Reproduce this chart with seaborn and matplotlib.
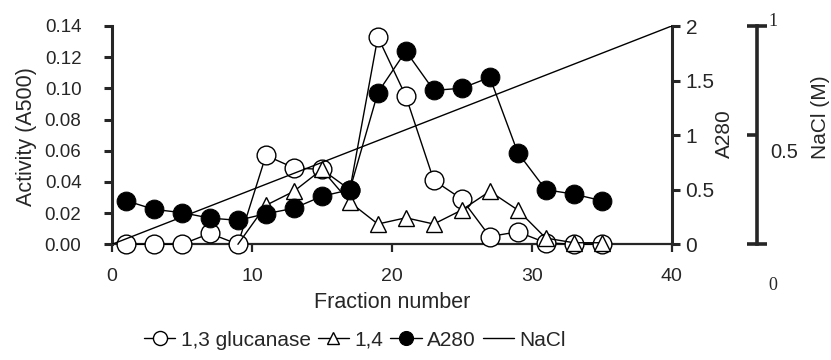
import numpy as np
import pandas as pd
import seaborn as sns
import matplotlib
matplotlib.use("Agg")
import matplotlib.pyplot as plt
from matplotlib.ticker import FormatStrFormatter, FixedLocator

# data
fractions = [1, 3, 5, 7, 9, 11, 13, 15, 17, 19, 21, 23, 25, 27, 29, 31, 33, 35]
glucanase_13 = [0.0, 0.0, 0.0, 0.007, 0.0, 0.057, 0.049, 0.048, 0.035, 0.133,
                0.095, 0.041, 0.029, 0.005, 0.008, 0.001, 0.0, 0.0]
fractions_14 = [9, 11, 13, 15, 17, 19, 21, 23, 25, 27, 29, 31, 33, 35]
glucanase_14 = [0.0, 0.025, 0.034, 0.048, 0.027, 0.013, 0.017, 0.013, 0.022,
                0.034, 0.022, 0.004, 0.001, 0.001]
a280 = [0.40, 0.32, 0.29, 0.24, 0.22, 0.28, 0.33, 0.44, 0.50, 1.39, 1.77,
        1.41, 1.43, 1.53, 0.84, 0.50, 0.46, 0.40]
nacl_fraction = [0, 40]
nacl = [0.0, 1.0]

sns.set_style("ticks")
plt.rcParams['font.family'] = ['Liberation Sans', 'DejaVu Sans']
plt.rcParams['font.size'] = 14

W, H = 831, 360
fig = plt.figure(figsize=(W / 100, H / 100), dpi=100)
x0, x1, y0, y1 = 112, 671.7, 244.3, 26
ax = fig.add_axes([x0 / W, 1 - y0 / H, (x1 - x0) / W, (y0 - y1) / H])
ax.set_facecolor('none')
ax2 = ax.twinx()
ax3 = ax.twinx()
for a in (ax2, ax3):
    a.set_facecolor('none')

# 1,3 glucanase (open circles)
sns.lineplot(x=fractions, y=glucanase_13, ax=ax, color='black', lw=1.0,
             marker='o', markersize=13.5, markerfacecolor='white',
             markeredgecolor='black', markeredgewidth=1.0, errorbar=None,
             label='1,3 glucanase', zorder=3, clip_on=False)
# 1,4 (open triangles) - first point has no marker
sns.lineplot(x=fractions_14, y=glucanase_14, ax=ax, color='black', lw=1.0,
             marker='^', markersize=11, markerfacecolor='white',
             markeredgecolor='black', markeredgewidth=1.0, errorbar=None,
             markevery=slice(1, None), label='1,4', zorder=4, clip_on=False)
# A280 (filled circles)
sns.lineplot(x=fractions, y=a280, ax=ax2, color='black', lw=1.0,
             marker='o', markersize=13.5, markerfacecolor='black',
             markeredgecolor='black', errorbar=None, label='A280',
             zorder=3, clip_on=False)
# NaCl gradient
sns.lineplot(x=nacl_fraction, y=nacl, ax=ax3, color='black', lw=1.0,
             errorbar=None, label='NaCl', zorder=3)

for a in (ax, ax2, ax3):
    if a.get_legend() is not None:
        a.get_legend().remove()

ax.set_xlim(0, 40)
ax.set_ylim(0, 0.14)
ax2.set_ylim(0, 2)
ax3.set_ylim(0, 1)

# left / bottom axes
ax.set_xticks([0, 10, 20, 30, 40])
ax.set_yticks(np.arange(0, 0.141, 0.02))
ax.yaxis.set_major_formatter(FormatStrFormatter('%.2f'))
ax.spines['top'].set_visible(False)
ax.spines['right'].set_visible(False)
ax.spines['left'].set_linewidth(2.2)
ax.spines['bottom'].set_linewidth(1.6)
ax.tick_params(axis='y', direction='out', length=6, width=2.2, pad=16, labelsize=13.5)
ax.tick_params(axis='x', direction='out', length=6, width=1.6, pad=11, labelsize=14)
ax.set_xlabel('')
ax.set_ylabel('')

# A280 axis
for s in ('top', 'left', 'bottom'):
    ax2.spines[s].set_visible(False)
ax2.spines['right'].set_linewidth(2.2)
ax2.set_yticks([0, 0.5, 1, 1.5, 2])
ax2.yaxis.set_major_formatter(FormatStrFormatter('%g'))
ax2.tick_params(axis='y', direction='out', length=6, width=2.2, pad=4, labelsize=15)
ax2.set_ylabel('')

# NaCl axis
for s in ('top', 'left', 'bottom'):
    ax3.spines[s].set_visible(False)
ax3.spines['right'].set_position(('axes', (757 - x0) / (x1 - x0)))
ax3.spines['right'].set_linewidth(2.6)
ax3.set_yticks([0, 1])
ax3.set_yticklabels([])
ax3.yaxis.set_minor_locator(FixedLocator([0.5]))
ax3.tick_params(axis='y', which='major', direction='inout', length=14, width=2.6)
ax3.tick_params(axis='y', which='minor', direction='in', length=7, width=2.6)
ax3.set_ylabel('')

def px(x, y):
    return x / W, 1 - y / H

fig.text(*px(392, 302), 'Fraction number', fontsize=15.5, ha='center', va='center')
fig.text(*px(27, 137), 'Activity (A500)', fontsize=15.5, rotation=90, ha='center', va='center')
fig.text(*px(724, 134), 'A280', fontsize=15, rotation=90, ha='center', va='center')
fig.text(*px(784, 152), '0.5', fontsize=14.5, ha='center', va='center')
fig.text(*px(820, 117), 'NaCl (M)', fontsize=15, rotation=90, ha='center', va='center')
fig.text(*px(773, 21), '1', fontsize=13, family='Liberation Serif', ha='center', va='center')
fig.text(*px(773, 285), '0', fontsize=13, family='Liberation Serif', ha='center', va='center')

handles = []
labels = []
for a in (ax, ax2, ax3):
    h, l = a.get_legend_handles_labels()
    handles += h
    labels += l
fig.legend(handles, labels, loc='center', bbox_to_anchor=px(355, 340), ncol=4,
           frameon=False, fontsize=15, handlelength=1.5, handletextpad=0.25,
           columnspacing=0.35, markerscale=0.75)

fig.savefig('out.png', dpi=100)
